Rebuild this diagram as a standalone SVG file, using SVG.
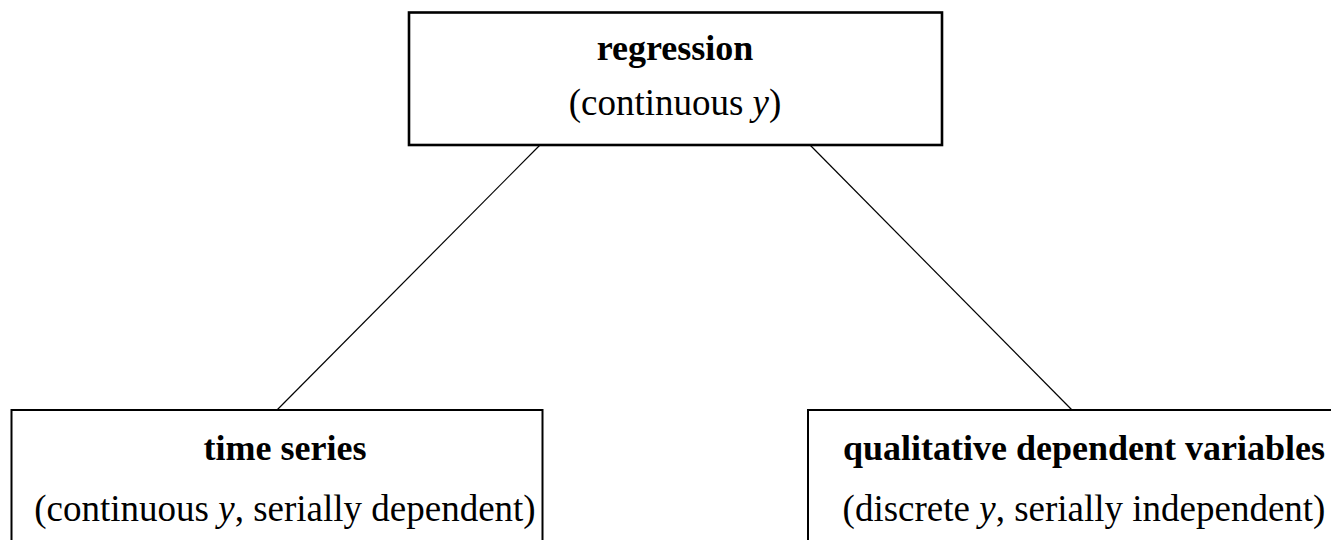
<svg xmlns="http://www.w3.org/2000/svg" width="1331" height="540" viewBox="0 0 1331 540">
  <style>
    .box { fill: #ffffff; stroke: #000000; }
    .title { font-family: "Liberation Serif", "Times New Roman", serif; font-size: 36px; font-weight: bold; fill: #000000; text-anchor: middle; }
    .sub { font-family: "Liberation Serif", "Times New Roman", serif; font-size: 37px; fill: #000000; text-anchor: middle; }
    .conn { stroke: #000000; stroke-width: 1.2; fill: none; }
  </style>
  <rect x="0" y="0" width="1331" height="540" fill="#ffffff"/>
  <g id="connectors">
    <line class="conn" x1="540" y1="145" x2="277" y2="410"/>
    <line class="conn" x1="810" y1="145" x2="1072" y2="410"/>
  </g>
  <g id="node-regression">
    <rect class="box" x="409" y="12.5" width="533" height="132.5" stroke-width="2.6"/>
    <text class="title" x="675" y="60">regression</text>
    <text class="sub" x="675" y="115">(continuous <tspan font-style="italic">y</tspan>)</text>
  </g>
  <g id="node-timeseries">
    <rect class="box" x="11.5" y="410" width="531" height="150" stroke-width="2"/>
    <text class="title" x="285" y="460">time series</text>
    <text class="sub" x="285" y="521">(continuous <tspan font-style="italic">y</tspan>, serially dependent)</text>
  </g>
  <g id="node-qualitative">
    <rect class="box" x="808" y="410" width="531" height="150" stroke-width="2"/>
    <text class="title" x="1084" y="460">qualitative dependent variables</text>
    <text class="sub" x="1084" y="521">(discrete <tspan font-style="italic">y</tspan>, serially independent)</text>
  </g>
</svg>
